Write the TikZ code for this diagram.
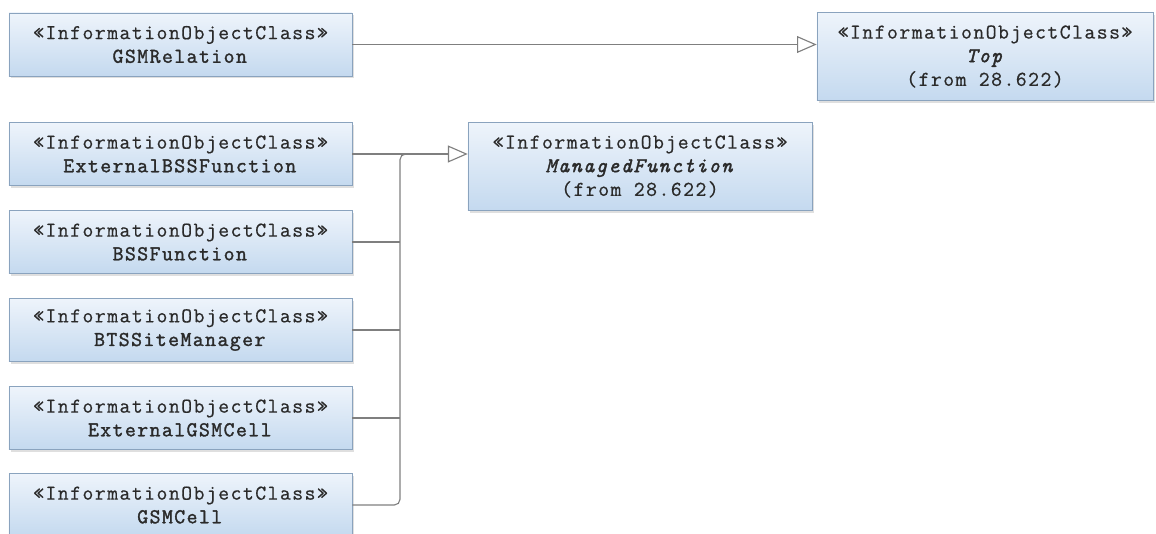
\documentclass[tikz,border=0pt]{standalone}
\usepackage{fontspec}
\setmonofont[LetterSpace=7, FakeBold=0.6,
  BoldFont={Latin Modern Mono}, BoldFeatures={FakeBold=1.6},
  ItalicFeatures={FakeBold=1.6}]{Latin Modern Mono}
\usetikzlibrary{arrows.meta,shadows}
\definecolor{boxline}{HTML}{8AA3BE}
\definecolor{boxtop}{HTML}{EEF4FB}
\definecolor{boxbot}{HTML}{C4D9EF}
\definecolor{wire}{HTML}{7F7F7F}
\definecolor{ink}{HTML}{2A2A2A}
\tikzset{
  ioc/.style={draw=boxline, top color=boxtop, bottom color=boxbot, align=center,
    inner sep=0pt, text=ink, font=\ttfamily\fontsize{15}{16.8}\selectfont,
    drop shadow={shadow xshift=1.5pt, shadow yshift=-1.5pt, opacity=0.25},
    minimum width=8.575cm, minimum height=1.575cm},
  big/.style={ioc, minimum width=8.5cm, minimum height=2.2cm},
  gen/.style={draw=wire, line width=0.8pt, -{Triangle[open, length=14pt, width=12pt, fill=white]}},
  wireline/.style={draw=wire, line width=0.8pt}
}
\begin{document}
\begin{tikzpicture}[x=0.025cm,y=-0.025cm]
    \useasboundingbox (0,0) rectangle (1156,533);
    \node[ioc] (R) at (180.5,44.5) {«InformationObjectClass»\\\textbf{GSMRelation}};
    \node[ioc] (E) at (180.5,154) {«InformationObjectClass»\\\textbf{ExternalBSSFunction}};
    \node[ioc] (B) at (180.5,242) {«InformationObjectClass»\\\textbf{BSSFunction}};
    \node[ioc] (S) at (180.5,330) {«InformationObjectClass»\\\textbf{BTSSiteManager}};
    \node[ioc] (X) at (180.5,418) {«InformationObjectClass»\\\textbf{ExternalGSMCell}};
    \node[ioc] (C) at (180.5,505) {«InformationObjectClass»\\\textbf{GSMCell}};
    \node[big, minimum width=8.6cm] (M) at (640,166.5) {«InformationObjectClass»\\\textit{ManagedFunction}\\(from 28.622)};
    \node[big, minimum width=8.4cm] (T) at (985,56.5) {«InformationObjectClass»\\\textit{Top}\\(from 28.622)};
    \coordinate (J) at (400,154);
    \draw[gen] (R.east) -- (R.east -| T.west);
    \draw[gen] (E.east) -- (E.east -| M.west);
    \draw[wireline] (B.east) -- (B.east -| J);
    \draw[wireline] (S.east) -- (S.east -| J);
    \draw[wireline] (X.east) -- (X.east -| J);
    \draw[wireline, rounded corners=4pt] (C.east) -| (J) -- ++(12,0);
\end{tikzpicture}
\end{document}
